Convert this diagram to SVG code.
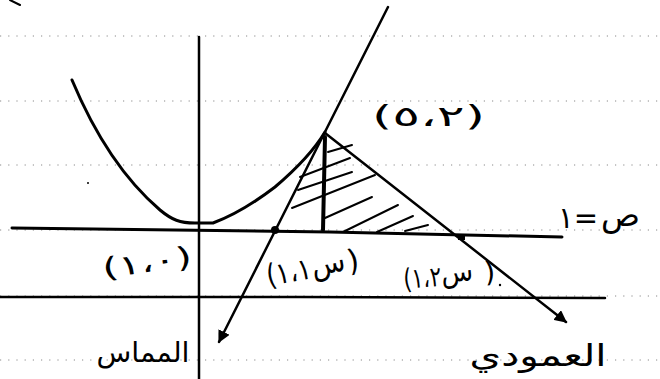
<svg xmlns="http://www.w3.org/2000/svg" width="660" height="379" viewBox="0 0 660 379">
<style>
.rule{stroke:#8a8a8a;stroke-width:1;stroke-dasharray:1.2 7;fill:none}
.ink{stroke:#000;fill:none;stroke-linecap:round;stroke-linejoin:round}
.hatch{stroke:#000;stroke-width:2;stroke-linecap:round}
.t{font-family:"DejaVu Sans",sans-serif;fill:#000}
</style>
<defs>
<marker id="ah" viewBox="0 0 10 10" refX="9" refY="5" markerWidth="5" markerHeight="5" orient="auto" markerUnits="strokeWidth">
<path d="M0,0 L10,5 L0,10 z" fill="#000"/>
</marker>
</defs>
<rect width="660" height="379" fill="#fff"/>
<g id="rules">
<line class="rule" x1="0" y1="36" x2="660" y2="36"/>
<line class="rule" x1="0" y1="101" x2="660" y2="101"/>
<line class="rule" x1="0" y1="165" x2="660" y2="165"/>
<line class="rule" x1="0" y1="230" x2="660" y2="230"/>
<line class="rule" x1="0" y1="296" x2="660" y2="296"/>
<line class="rule" x1="0" y1="360" x2="660" y2="360"/>
</g>
<g id="axes">
<line class="ink" stroke-width="2.5" x1="199" y1="37" x2="199" y2="379"/>
<path class="ink" stroke-width="3" d="M12,228 L330,232 L562,237"/>
<path class="ink" stroke-width="2.5" d="M0,297 L300,297 L605,298"/>
<line class="ink" stroke-width="2" x1="10" y1="0" x2="20" y2="5"/>
</g>
<g id="curve">
<path class="ink" stroke-width="3" d="M72,80 C95,135 125,180 160,210 C172,220 180,223 195,223 L213,223 C235,215 258,200 275,187 C295,170 313,152 325,132"/>
</g>
<g id="shading">
<line class="hatch" x1="328" y1="152" x2="352" y2="145"/>
<line class="hatch" x1="300" y1="177" x2="350" y2="158"/>
<line class="hatch" x1="298" y1="190" x2="352" y2="172"/>
<line class="hatch" x1="292" y1="208" x2="375" y2="175"/>
<line class="hatch" x1="325" y1="218" x2="372" y2="197"/>
<line class="hatch" x1="343" y1="232" x2="398" y2="205"/>
<line class="hatch" x1="377" y1="232" x2="413" y2="216"/>
<line class="hatch" x1="405" y1="231" x2="428" y2="225"/>
<line class="ink" stroke-width="4" x1="325" y1="137" x2="323" y2="230"/>
</g>
<g id="connectors">
<line class="ink" stroke-width="2.5" x1="388" y1="7" x2="219" y2="342" marker-end="url(#ah)"/>
<line class="ink" stroke-width="2.5" x1="325" y1="133" x2="566" y2="322" marker-end="url(#ah)"/>
</g>
<g id="points">
<circle cx="275" cy="230" r="4" fill="#000"/>
<rect x="458" y="234" width="7" height="6" fill="#000"/>
<circle cx="500" cy="285" r="1.2" fill="#000"/>
<circle cx="88" cy="183" r="1" fill="#000"/>
</g>
<g id="labels">
<text class="t" x="372" y="126" font-size="28" textLength="113" lengthAdjust="spacingAndGlyphs">(٥،٢)</text>
<text class="t" x="102" y="272" font-size="28" textLength="90" lengthAdjust="spacingAndGlyphs" transform="rotate(-8 147 262)">(١،٠)</text>
<g id="label-x1" transform="rotate(-10 312 264)">
<text class="t" x="265" y="278" font-size="30" textLength="45" lengthAdjust="spacingAndGlyphs">(١،١</text>
<text class="t" x="311" y="276" font-size="30" textLength="34" lengthAdjust="spacingAndGlyphs">س</text>
<text class="t" x="347" y="278" font-size="30">)</text>
</g>
<g id="label-x2" transform="rotate(-5 450 273)">
<text class="t" x="403" y="285" font-size="28" textLength="38" lengthAdjust="spacingAndGlyphs">(١،٢</text>
<text class="t" x="441" y="282" font-size="28" textLength="32" lengthAdjust="spacingAndGlyphs">س</text>
<text class="t" x="484" y="285" font-size="28">)</text>
</g>
<g id="label-y1">
<text class="t" x="558" y="228" font-size="30" textLength="40" lengthAdjust="spacingAndGlyphs">١=</text>
<text class="t" x="601" y="226" font-size="32" textLength="39" lengthAdjust="spacingAndGlyphs">ص</text>
</g>
<text class="t" x="143" y="362" font-size="28" text-anchor="middle" textLength="93" lengthAdjust="spacingAndGlyphs">المماس</text>
<text class="t" x="538" y="366" font-size="30" text-anchor="middle" textLength="137" lengthAdjust="spacingAndGlyphs">العمودي</text>
</g>
</svg>
